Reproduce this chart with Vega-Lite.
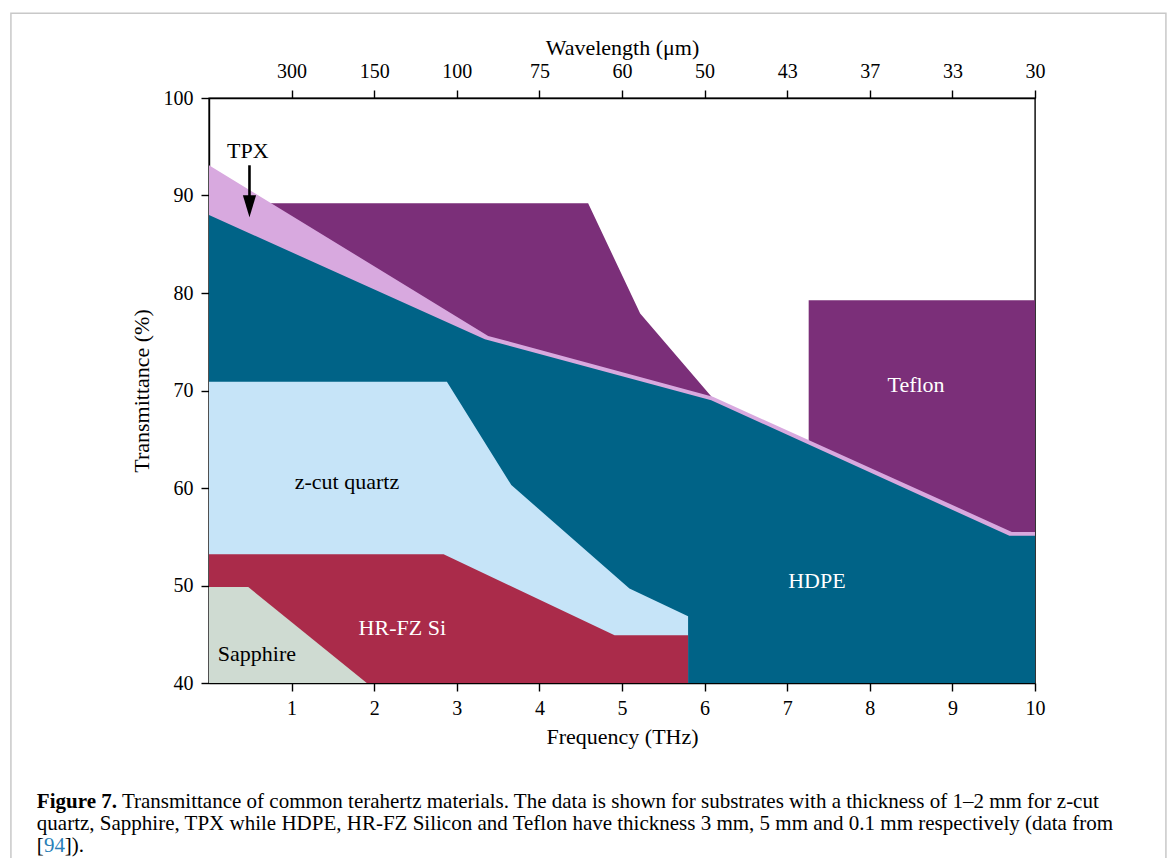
{
  "$schema": "https://vega.github.io/schema/vega-lite/v6.json",
  "width": 826,
  "height": 585,
  "autosize": {"type": "none"},
  "padding": {"left": 209, "top": 98, "right": 138, "bottom": 175},
  "background": "#ffffff",
  "config": {
    "font": "Liberation Serif",
    "view": {"stroke": "#000000", "strokeWidth": 1.4},
    "axis": {
      "grid": false,
      "domainColor": "#000000",
      "domainWidth": 1.4,
      "tickColor": "#000000",
      "tickWidth": 1.4,
      "tickSize": 8,
      "labelFont": "Liberation Serif",
      "labelFontSize": 20,
      "labelColor": "#000000",
      "labelFlush": false,
      "labelOverlap": false,
      "titleFont": "Liberation Serif",
      "titleFontSize": 22,
      "titleFontWeight": "normal",
      "titleColor": "#000000"
    }
  },
  "datasets": {
    "materials": [
      {"material": "Teflon", "part": "Teflon-1", "frequency": 0, "transmittance": 89.2},
      {"material": "Teflon", "part": "Teflon-1", "frequency": 4.59, "transmittance": 89.2},
      {"material": "Teflon", "part": "Teflon-1", "frequency": 5.22, "transmittance": 77.9},
      {"material": "Teflon", "part": "Teflon-1", "frequency": 6.1, "transmittance": 69.2},
      {"material": "Teflon", "part": "Teflon-2", "frequency": 7.26, "transmittance": 79.25},
      {"material": "Teflon", "part": "Teflon-2", "frequency": 10, "transmittance": 79.25},
      {"material": "TPX", "part": "TPX", "frequency": 0, "transmittance": 93.1},
      {"material": "TPX", "part": "TPX", "frequency": 3.38, "transmittance": 75.6},
      {"material": "TPX", "part": "TPX", "frequency": 6.1, "transmittance": 69.35},
      {"material": "TPX", "part": "TPX", "frequency": 9.72, "transmittance": 55.5},
      {"material": "TPX", "part": "TPX", "frequency": 10, "transmittance": 55.5},
      {"material": "HDPE", "part": "HDPE", "frequency": 0, "transmittance": 88.0},
      {"material": "HDPE", "part": "HDPE", "frequency": 3.34, "transmittance": 75.25},
      {"material": "HDPE", "part": "HDPE", "frequency": 6.08, "transmittance": 69.0},
      {"material": "HDPE", "part": "HDPE", "frequency": 9.69, "transmittance": 55.1},
      {"material": "HDPE", "part": "HDPE", "frequency": 10, "transmittance": 55.1},
      {"material": "z-cut quartz", "part": "z-cut quartz", "frequency": 0, "transmittance": 70.9},
      {"material": "z-cut quartz", "part": "z-cut quartz", "frequency": 2.88, "transmittance": 70.9},
      {"material": "z-cut quartz", "part": "z-cut quartz", "frequency": 3.66, "transmittance": 60.3},
      {"material": "z-cut quartz", "part": "z-cut quartz", "frequency": 5.09, "transmittance": 49.7},
      {"material": "z-cut quartz", "part": "z-cut quartz", "frequency": 5.8, "transmittance": 46.85},
      {"material": "HR-FZ Si", "part": "HR-FZ Si", "frequency": 0, "transmittance": 53.2},
      {"material": "HR-FZ Si", "part": "HR-FZ Si", "frequency": 2.84, "transmittance": 53.2},
      {"material": "HR-FZ Si", "part": "HR-FZ Si", "frequency": 4.91, "transmittance": 44.9},
      {"material": "HR-FZ Si", "part": "HR-FZ Si", "frequency": 5.8, "transmittance": 44.9},
      {"material": "Sapphire", "part": "Sapphire", "frequency": 0, "transmittance": 49.85},
      {"material": "Sapphire", "part": "Sapphire", "frequency": 0.475, "transmittance": 49.85},
      {"material": "Sapphire", "part": "Sapphire", "frequency": 1.91, "transmittance": 40}
    ],
    "labels": [
      {"label": "TPX", "frequency": 0.47, "transmittance": 94.6},
      {"label": "Teflon", "frequency": 8.56, "transmittance": 70.6},
      {"label": "z-cut quartz", "frequency": 1.67, "transmittance": 60.6},
      {"label": "HDPE", "frequency": 7.36, "transmittance": 50.5},
      {"label": "HR-FZ Si", "frequency": 2.34, "transmittance": 45.6},
      {"label": "Sapphire", "frequency": 0.58, "transmittance": 43.0}
    ],
    "arrow": [
      {"frequency": 0.49, "start": 93.1, "end": 89.4, "head": 88.9}
    ]
  },
  "resolve": {"axis": {"x": "independent", "y": "independent"}},
  "layer": [
    {
      "data": {"values": [{}]},
      "mark": {"type": "rect", "fillOpacity": 0, "stroke": "#c8c8c8", "strokeWidth": 1.5, "clip": false},
      "encoding": {
        "x": {"datum": -2.398, "type": "quantitative", "scale": {"domain": [0, 10], "nice": false}, "axis": null},
        "x2": {"datum": 11.585},
        "y": {"datum": 108.69, "type": "quantitative", "scale": {"domain": [40, 100], "nice": false, "zero": false}, "axis": null},
        "y2": {"datum": 15}
      }
    },
    {
      "data": {"name": "materials"},
      "transform": [{"filter": "datum.material === 'Teflon'"}],
      "mark": {"type": "area", "color": "#7b2f79", "interpolate": "linear"},
      "encoding": {
        "x": {
          "field": "frequency", "type": "quantitative",
          "scale": {"domain": [0, 10], "nice": false},
          "axis": {"orient": "bottom", "values": [1, 2, 3, 4, 5, 6, 7, 8, 9, 10], "format": "d", "title": "Frequency (THz)", "labelPadding": 7, "titlePadding": 8}
        },
        "y": {
          "field": "transmittance", "type": "quantitative",
          "scale": {"domain": [40, 100], "nice": false, "zero": false},
          "axis": {"orient": "left", "values": [40, 50, 60, 70, 80, 90, 100], "title": "Transmittance (%)", "labelPadding": 8, "titlePadding": 10}
        },
        "y2": {"datum": 40},
        "detail": {"field": "part"}
      }
    },
    {
      "data": {"name": "materials"},
      "transform": [{"filter": "datum.material === 'TPX'"}],
      "mark": {"type": "area", "color": "#d8a9df", "interpolate": "linear"},
      "encoding": {
        "x": {
          "field": "frequency", "type": "quantitative",
          "scale": {"domain": [0, 10], "nice": false},
          "axis": {"orient": "top", "values": [1, 2, 3, 4, 5, 6, 7, 8, 9, 10], "labelExpr": "format(299.79 / datum.value, 'd')", "title": "Wavelength (μm)", "labelPadding": 9, "titlePadding": 2}
        },
        "y": {"field": "transmittance", "type": "quantitative", "scale": {"domain": [40, 100], "nice": false, "zero": false}, "axis": null},
        "y2": {"datum": 40}
      }
    },
    {
      "data": {"name": "materials"},
      "transform": [{"filter": "datum.material === 'HDPE'"}],
      "mark": {"type": "area", "color": "#006387", "interpolate": "linear"},
      "encoding": {
        "x": {"field": "frequency", "type": "quantitative", "scale": {"domain": [0, 10], "nice": false}, "axis": null},
        "y": {"field": "transmittance", "type": "quantitative", "scale": {"domain": [40, 100], "nice": false, "zero": false}, "axis": null},
        "y2": {"datum": 40}
      }
    },
    {
      "data": {"name": "materials"},
      "transform": [{"filter": "datum.material === 'z-cut quartz'"}],
      "mark": {"type": "area", "color": "#c6e4f8", "interpolate": "linear"},
      "encoding": {
        "x": {"field": "frequency", "type": "quantitative", "scale": {"domain": [0, 10], "nice": false}, "axis": null},
        "y": {"field": "transmittance", "type": "quantitative", "scale": {"domain": [40, 100], "nice": false, "zero": false}, "axis": null},
        "y2": {"datum": 40}
      }
    },
    {
      "data": {"name": "materials"},
      "transform": [{"filter": "datum.material === 'HR-FZ Si'"}],
      "mark": {"type": "area", "color": "#aa2b4a", "interpolate": "linear"},
      "encoding": {
        "x": {"field": "frequency", "type": "quantitative", "scale": {"domain": [0, 10], "nice": false}, "axis": null},
        "y": {"field": "transmittance", "type": "quantitative", "scale": {"domain": [40, 100], "nice": false, "zero": false}, "axis": null},
        "y2": {"datum": 40}
      }
    },
    {
      "data": {"name": "materials"},
      "transform": [{"filter": "datum.material === 'Sapphire'"}],
      "mark": {"type": "area", "color": "#cfdbd2", "interpolate": "linear"},
      "encoding": {
        "x": {"field": "frequency", "type": "quantitative", "scale": {"domain": [0, 10], "nice": false}, "axis": null},
        "y": {"field": "transmittance", "type": "quantitative", "scale": {"domain": [40, 100], "nice": false, "zero": false}, "axis": null},
        "y2": {"datum": 40}
      }
    },
    {
      "data": {"name": "arrow"},
      "mark": {"type": "rule", "color": "#000000", "strokeWidth": 2.6},
      "encoding": {
        "x": {"field": "frequency", "type": "quantitative", "scale": {"domain": [0, 10], "nice": false}, "axis": null},
        "y": {"field": "start", "type": "quantitative", "scale": {"domain": [40, 100], "nice": false, "zero": false}, "axis": null},
        "y2": {"field": "end"}
      }
    },
    {
      "data": {"name": "arrow"},
      "mark": {"type": "point", "shape": "M-0.6,-1L0.6,-1L0,1Z", "filled": true, "color": "#000000", "opacity": 1, "size": 484},
      "encoding": {
        "x": {"field": "frequency", "type": "quantitative", "scale": {"domain": [0, 10], "nice": false}, "axis": null},
        "y": {"field": "head", "type": "quantitative", "scale": {"domain": [40, 100], "nice": false, "zero": false}, "axis": null}
      }
    },
    {
      "data": {"name": "labels"},
      "transform": [{"filter": {"field": "label", "oneOf": ["TPX", "z-cut quartz", "Sapphire"]}}],
      "mark": {"type": "text", "font": "Liberation Serif", "fontSize": 22, "color": "#000000", "align": "center", "baseline": "middle"},
      "encoding": {
        "x": {"field": "frequency", "type": "quantitative", "scale": {"domain": [0, 10], "nice": false}, "axis": null},
        "y": {"field": "transmittance", "type": "quantitative", "scale": {"domain": [40, 100], "nice": false, "zero": false}, "axis": null},
        "text": {"field": "label"}
      }
    },
    {
      "data": {"name": "labels"},
      "transform": [{"filter": {"field": "label", "oneOf": ["Teflon", "HDPE", "HR-FZ Si"]}}],
      "mark": {"type": "text", "font": "Liberation Serif", "fontSize": 22, "color": "#ffffff", "align": "center", "baseline": "middle"},
      "encoding": {
        "x": {"field": "frequency", "type": "quantitative", "scale": {"domain": [0, 10], "nice": false}, "axis": null},
        "y": {"field": "transmittance", "type": "quantitative", "scale": {"domain": [40, 100], "nice": false, "zero": false}, "axis": null},
        "text": {"field": "label"}
      }
    },
    {
      "data": {"values": [{}]},
      "mark": {"type": "text", "font": "Liberation Serif", "fontSize": 21, "fontWeight": "bold", "color": "#000000", "align": "left", "baseline": "alphabetic", "text": "Figure 7."},
      "encoding": {
        "x": {"datum": -2.084, "type": "quantitative", "scale": {"domain": [0, 10], "nice": false}, "axis": null},
        "y": {"datum": 27.15, "type": "quantitative", "scale": {"domain": [40, 100], "nice": false, "zero": false}, "axis": null}
      }
    },
    {
      "data": {"values": [{}]},
      "mark": {"type": "text", "font": "Liberation Serif", "fontSize": 21, "color": "#000000", "align": "left", "baseline": "alphabetic", "text": "Transmittance of common terahertz materials. The data is shown for substrates with a thickness of 1–2 mm for z-cut"},
      "encoding": {
        "x": {"datum": -1.054, "type": "quantitative", "scale": {"domain": [0, 10], "nice": false}, "axis": null},
        "y": {"datum": 27.15, "type": "quantitative", "scale": {"domain": [40, 100], "nice": false, "zero": false}, "axis": null}
      }
    },
    {
      "data": {"values": [{}]},
      "mark": {"type": "text", "font": "Liberation Serif", "fontSize": 21, "color": "#000000", "align": "left", "baseline": "alphabetic", "text": "quartz, Sapphire, TPX while HDPE, HR-FZ Silicon and Teflon have thickness 3 mm, 5 mm and 0.1 mm respectively (data from"},
      "encoding": {
        "x": {"datum": -2.084, "type": "quantitative", "scale": {"domain": [0, 10], "nice": false}, "axis": null},
        "y": {"datum": 24.89, "type": "quantitative", "scale": {"domain": [40, 100], "nice": false, "zero": false}, "axis": null}
      }
    },
    {
      "data": {"values": [{}]},
      "mark": {"type": "text", "font": "Liberation Serif", "fontSize": 21, "color": "#000000", "align": "left", "baseline": "alphabetic", "text": "["},
      "encoding": {
        "x": {"datum": -2.084, "type": "quantitative", "scale": {"domain": [0, 10], "nice": false}, "axis": null},
        "y": {"datum": 22.64, "type": "quantitative", "scale": {"domain": [40, 100], "nice": false, "zero": false}, "axis": null}
      }
    },
    {
      "data": {"values": [{}]},
      "mark": {"type": "text", "font": "Liberation Serif", "fontSize": 21, "color": "#2a7fb8", "align": "left", "baseline": "alphabetic", "text": "94"},
      "encoding": {
        "x": {"datum": -1.999, "type": "quantitative", "scale": {"domain": [0, 10], "nice": false}, "axis": null},
        "y": {"datum": 22.64, "type": "quantitative", "scale": {"domain": [40, 100], "nice": false, "zero": false}, "axis": null}
      }
    },
    {
      "data": {"values": [{}]},
      "mark": {"type": "text", "font": "Liberation Serif", "fontSize": 21, "color": "#000000", "align": "left", "baseline": "alphabetic", "text": "])."},
      "encoding": {
        "x": {"datum": -1.745, "type": "quantitative", "scale": {"domain": [0, 10], "nice": false}, "axis": null},
        "y": {"datum": 22.64, "type": "quantitative", "scale": {"domain": [40, 100], "nice": false, "zero": false}, "axis": null}
      }
    }
  ]
}
